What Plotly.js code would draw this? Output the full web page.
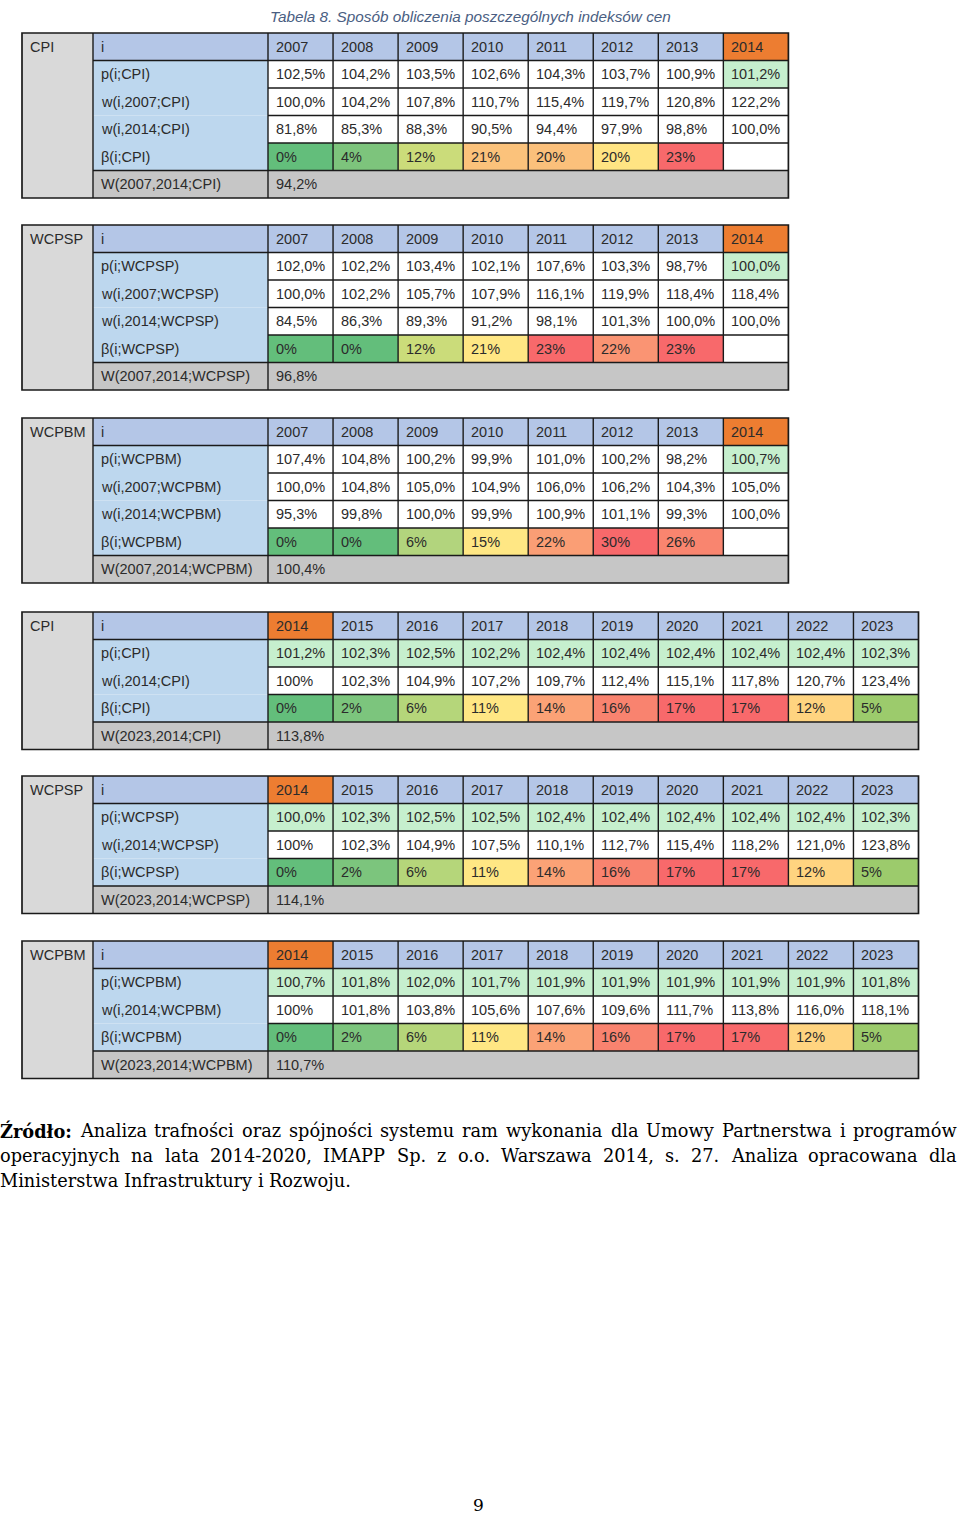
<!DOCTYPE html>
<html>
<head>
<meta charset="utf-8">
<script src="https://cdn.plot.ly/plotly-3.0.1.min.js"></script>
<style>html,body{margin:0;padding:0;background:#fff}</style>
</head>
<body>
<div id="chart" style="width:960px;height:1515px"></div>
<script>
// ---------------- DATA ----------------
const tableTitle = "Tabela 8. Sposób obliczenia poszczególnych indeksów cen";
const years0714 = ["2007","2008","2009","2010","2011","2012","2013","2014"];
const years1423 = ["2014","2015","2016","2017","2018","2019","2020","2021","2022","2023"];

// Table 1: CPI 2007-2014
const cpi1_p     = [102.5,104.2,103.5,102.6,104.3,103.7,100.9,101.2];
const cpi1_w2007 = [100.0,104.2,107.8,110.7,115.4,119.7,120.8,122.2];
const cpi1_w2014 = [81.8,85.3,88.3,90.5,94.4,97.9,98.8,100.0];
const cpi1_beta  = [0,4,12,21,20,20,23,null];
const cpi1_W     = 94.2;

// Table 2: WCPSP 2007-2014
const wcpsp1_p     = [102.0,102.2,103.4,102.1,107.6,103.3,98.7,100.0];
const wcpsp1_w2007 = [100.0,102.2,105.7,107.9,116.1,119.9,118.4,118.4];
const wcpsp1_w2014 = [84.5,86.3,89.3,91.2,98.1,101.3,100.0,100.0];
const wcpsp1_beta  = [0,0,12,21,23,22,23,null];
const wcpsp1_W     = 96.8;

// Table 3: WCPBM 2007-2014
const wcpbm1_p     = [107.4,104.8,100.2,99.9,101.0,100.2,98.2,100.7];
const wcpbm1_w2007 = [100.0,104.8,105.0,104.9,106.0,106.2,104.3,105.0];
const wcpbm1_w2014 = [95.3,99.8,100.0,99.9,100.9,101.1,99.3,100.0];
const wcpbm1_beta  = [0,0,6,15,22,30,26,null];
const wcpbm1_W     = 100.4;

// Table 4: CPI 2014-2023
const cpi2_p     = [101.2,102.3,102.5,102.2,102.4,102.4,102.4,102.4,102.4,102.3];
const cpi2_w2014 = [100,102.3,104.9,107.2,109.7,112.4,115.1,117.8,120.7,123.4];
const cpi2_beta  = [0,2,6,11,14,16,17,17,12,5];
const cpi2_W     = 113.8;

// Table 5: WCPSP 2014-2023
const wcpsp2_p     = [100.0,102.3,102.5,102.5,102.4,102.4,102.4,102.4,102.4,102.3];
const wcpsp2_w2014 = [100,102.3,104.9,107.5,110.1,112.7,115.4,118.2,121.0,123.8];
const wcpsp2_beta  = [0,2,6,11,14,16,17,17,12,5];
const wcpsp2_W     = 114.1;

// Table 6: WCPBM 2014-2023
const wcpbm2_p     = [100.7,101.8,102.0,101.7,101.9,101.9,101.9,101.9,101.9,101.8];
const wcpbm2_w2014 = [100,101.8,103.8,105.6,107.6,109.6,111.7,113.8,116.0,118.1];
const wcpbm2_beta  = [0,2,6,11,14,16,17,17,12,5];
const wcpbm2_W     = 110.7;

const sourceLines = [
  "Źródło: Analiza trafności oraz spójności systemu ram wykonania dla Umowy Partnerstwa i programów",
  "operacyjnych na lata 2014-2020, IMAPP Sp. z o.o. Warszawa 2014, s. 27. Analiza opracowana dla",
  "Ministerstwa Infrastruktury i Rozwoju."
];
const sourceBoldWord = "Źródło:";
const pageNumber = "9";

// ---------------- STYLES ----------------
const C = {
  labelCol:'#d9d9d9', header:'#b4c6e7', rowLabel:'#bdd7ee', hl:'#ed7d31',
  pGreen:'#c6efce', white:'#ffffff', Wrow:'#c6c6c6', line:'#1a1a1a', text:'#2b2b2b',
  title:'#4a5e82'
};
const betaColors0714 = {
  CPI:   ['#63be7b','#7dc47c','#cbdc7a','#fbc27b','#fbc07b','#ffe483','#f8696b','#ffffff'],
  WCPSP: ['#63be7b','#63be7b','#cbdc7a','#ffe784','#f8696b','#fa9473','#f8696b','#ffffff'],
  WCPBM: ['#63be7b','#63be7b','#b2d47d','#ffe784','#fa9e75','#f8696b','#f9856f','#ffffff']
};
const betaColors1423 = ['#63be7b','#7cc57d','#b5d67a','#ffe784','#fba276','#f9836f','#f8696b','#f8696b','#ffd480','#9ccb6c'];

const CELL_FONT = 'Liberation Sans, Arial, sans-serif';
const CELL_SIZE = 14.5;
const SERIF = 'DejaVu Serif, serif';
const G = {X0:22, X1:93, X2:268, COL_W:65.05, ROW_H:27.5, TOPS:[33,225,418,612,776,941], PAD:7.5};

// ---------------- HELPERS ----------------
const pct1 = v => v.toFixed(1).replace('.',',') + '%';
const pct0 = v => Math.round(v) + '%';

function tableOld(name, p, w07, w14, beta, W) {
  return {
    name, years: years0714,
    rows: [
      {label:`p(i;${name})`, values:p.map(pct1), fills:p.map((v,i)=> years0714[i]==='2014' ? C.pGreen : C.white)},
      {label:`w(i,2007;${name})`, values:w07.map(pct1), fills:w07.map(()=>C.white)},
      {label:`w(i,2014;${name})`, values:w14.map(pct1), fills:w14.map(()=>C.white)},
      {label:`β(i;${name})`, values:beta.map(v=> v===null ? '' : pct0(v)), fills:betaColors0714[name]}
    ],
    Wlabel:`W(2007,2014;${name})`, W: pct1(W)
  };
}
function tableNew(name, p, w14, beta, W) {
  return {
    name, years: years1423,
    rows: [
      {label:`p(i;${name})`, values:p.map(pct1), fills:p.map(()=>C.pGreen)},
      {label:`w(i,2014;${name})`, values:w14.map((v,i)=> i===0 ? pct0(v) : pct1(v)), fills:w14.map(()=>C.white)},
      {label:`β(i;${name})`, values:beta.map(pct0), fills:betaColors1423}
    ],
    Wlabel:`W(2023,2014;${name})`, W: pct1(W)
  };
}

const tables = [
  tableOld('CPI', cpi1_p, cpi1_w2007, cpi1_w2014, cpi1_beta, cpi1_W),
  tableOld('WCPSP', wcpsp1_p, wcpsp1_w2007, wcpsp1_w2014, wcpsp1_beta, wcpsp1_W),
  tableOld('WCPBM', wcpbm1_p, wcpbm1_w2007, wcpbm1_w2014, wcpbm1_beta, wcpbm1_W),
  tableNew('CPI', cpi2_p, cpi2_w2014, cpi2_beta, cpi2_W),
  tableNew('WCPSP', wcpsp2_p, wcpsp2_w2014, wcpsp2_beta, wcpsp2_W),
  tableNew('WCPBM', wcpbm2_p, wcpbm2_w2014, wcpbm2_beta, wcpbm2_W)
];

const shapes = [];
const annotations = [];
function rect(x0,y0,x1,y1,fill){
  shapes.push({type:'rect',xref:'x',yref:'y',x0,y0,x1,y1,fillcolor:fill,line:{width:0},layer:'below'});
}
function hline(x0,x1,y,w){ shapes.push({type:'line',xref:'x',yref:'y',x0,x1,y0:y,y1:y,line:{color:C.line,width:w||1.4},layer:'above'}); }
function vline(x,y0,y1,w){ shapes.push({type:'line',xref:'x',yref:'y',x0:x,x1:x,y0,y1,line:{color:C.line,width:w||1.4},layer:'above'}); }
function txt(x,y,s,o){
  o = o || {};
  annotations.push({x,y,xref:'x',yref:'y',text:s,showarrow:false,
    xanchor:o.xanchor||'left',yanchor:'middle',borderpad:0,borderwidth:0,
    font:{family:o.family||CELL_FONT,size:o.size||CELL_SIZE,color:o.color||C.text}});
}

tables.forEach((t,k) => {
  const top = G.TOPS[k], H = G.ROW_H, n = t.years.length, PAD = G.PAD;
  const right = G.X2 + n*G.COL_W;
  const nRows = 1 + t.rows.length + 1;
  const bottom = top + nRows*H;
  const colX = i => G.X2 + i*G.COL_W;
  const rowY = r => top + r*H;

  // first column
  rect(G.X0, top, G.X1, bottom, C.labelCol);
  txt(G.X0+PAD, top+H/2, t.name);
  // header row
  rect(G.X1, top, G.X2, top+H, C.header);
  txt(G.X1+PAD, top+H/2, 'i');
  t.years.forEach((yr,i) => {
    rect(colX(i), top, colX(i+1), top+H, yr==='2014' ? C.hl : C.header);
    txt(colX(i)+PAD, top+H/2, yr);
  });
  // data rows
  t.rows.forEach((row,r) => {
    const y0 = rowY(r+1), y1 = rowY(r+2);
    rect(G.X1, y0, G.X2, y1, C.rowLabel);
    txt(G.X1+PAD, (y0+y1)/2, row.label);
    row.values.forEach((v,i) => {
      rect(colX(i), y0, colX(i+1), y1, row.fills[i]);
      if (v) txt(colX(i)+PAD, (y0+y1)/2, v);
    });
  });
  // W row
  const wy0 = rowY(nRows-1);
  rect(G.X1, wy0, right, bottom, C.Wrow);
  txt(G.X1+PAD, (wy0+bottom)/2, t.Wlabel);
  txt(G.X2+PAD, (wy0+bottom)/2, t.W);

  // grid lines
  hline(G.X1, right, top+H);
  hline(G.X1, right, wy0);
  for (let r = 2; r < nRows-1; r++) hline(G.X2, right, rowY(r));
  for (let i = 1; i < n; i++) vline(colX(i), top, wy0);
  vline(G.X1, top, bottom);
  vline(G.X2, top, bottom);
  // outer frame
  shapes.push({type:'rect',xref:'x',yref:'y',x0:G.X0,y0:top,x1:right,y1:bottom,
    fillcolor:'rgba(0,0,0,0)',line:{color:C.line,width:1.7},layer:'above'});
});

// title
annotations.push({x:470,y:16,xref:'x',yref:'y',text:'<i>'+tableTitle+'</i>',showarrow:false,
  xanchor:'center',yanchor:'middle',font:{family:CELL_FONT,size:15.3,color:C.title}});

// source paragraph (justified)
(function(){
  const ctx = document.createElement('canvas').getContext('2d');
  const TARGET_LAST = 351, LEFT = 0, RIGHT = 957, Y0 = 1131, LH = 25;
  ctx.font = '17px "DejaVu Serif"';
  const size = 17 * TARGET_LAST / ctx.measureText(sourceLines[2]).width;
  const fontStr = b => (b ? 'bold ' : '') + size + 'px "DejaVu Serif"';
  sourceLines.forEach((line, li) => {
    const words = line.split(' ');
    const widths = words.map(w => { ctx.font = fontStr(w===sourceBoldWord); return ctx.measureText(w).width; });
    const justify = li < sourceLines.length-1;
    ctx.font = fontStr(false);
    const gap = justify ? (RIGHT-LEFT - widths.reduce((a,b)=>a+b,0)) / (words.length-1) : ctx.measureText(' ').width;
    let x = LEFT;
    words.forEach((w,i) => {
      const bold = w===sourceBoldWord;
      annotations.push({x, y:Y0+li*LH, xref:'x', yref:'y', text: bold ? '<b>'+w+'</b>' : w, showarrow:false,
        xanchor:'left', yanchor:'middle', borderpad:0, borderwidth:0,
        font:{family:SERIF,size:size,color:'#000'}});
      x += widths[i] + gap;
    });
  });
})();

// page number
annotations.push({x:478,y:1505,xref:'x',yref:'y',text:pageNumber,showarrow:false,
  xanchor:'center',yanchor:'middle',font:{family:SERIF,size:17,color:'#000'}});

const layout = {
  width:960, height:1515, margin:{l:0,r:0,t:0,b:0},
  paper_bgcolor:'#fff', plot_bgcolor:'#fff', showlegend:false,
  xaxis:{range:[0,960], visible:false, fixedrange:true},
  yaxis:{range:[1515,0], visible:false, fixedrange:true},
  shapes, annotations
};
Plotly.newPlot('chart', [{type:'scatter', x:[], y:[], hoverinfo:'skip'}], layout, {staticPlot:true, displayModeBar:false});
</script>
</body>
</html>
